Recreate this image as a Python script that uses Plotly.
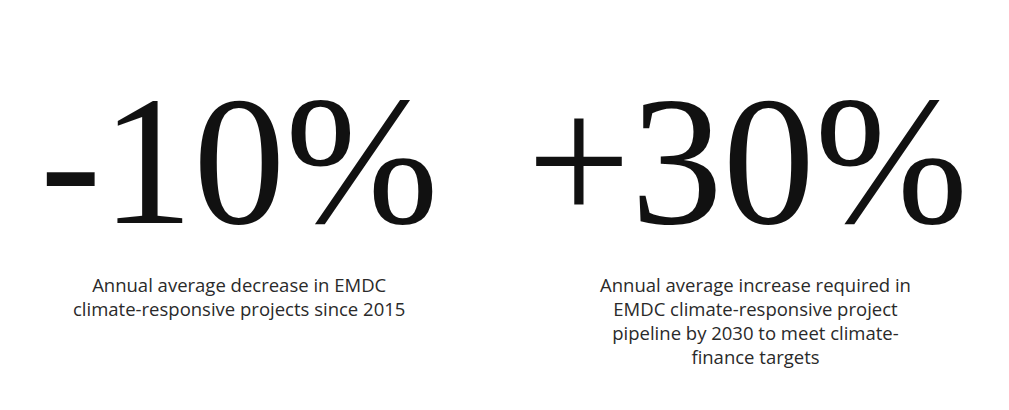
import plotly.graph_objects as go

# Data
values = [-10, 30]
value_labels = ["-10%", "+30%"]
captions = [
    "Annual average decrease in EMDC<br>climate-responsive projects since 2015",
    "Annual average increase required in<br>EMDC climate-responsive project<br>pipeline by 2030 to meet climate-<br>finance targets",
]
x_centers = [0.229, 0.733]
caption_x = [0.229, 0.741]

fig = go.Figure()

annotations = []
for lab, cap, xc, cx in zip(value_labels, captions, x_centers, caption_x):
    annotations.append(dict(
        x=xc, y=0.626, xref="paper", yref="paper", text=lab, showarrow=False,
        xanchor="center", yanchor="middle",
        font=dict(family="Liberation Serif, Times New Roman, Times, serif", size=184, color="#111111"),
    ))
    annotations.append(dict(
        x=cx, y=0.36, xref="paper", yref="paper", text=cap, showarrow=False,
        xanchor="center", yanchor="top", align="center",
        font=dict(family="Open Sans, Liberation Sans, sans-serif", size=18.5, color="#2a2a2a"),
    ))

fig.update_layout(
    width=1009, height=410,
    margin=dict(l=0, r=0, t=0, b=0),
    paper_bgcolor="#ffffff", plot_bgcolor="#ffffff",
    xaxis=dict(visible=False, range=[0, 1]),
    yaxis=dict(visible=False, range=[0, 1]),
    annotations=annotations,
    showlegend=False,
)

fig.write_html("out.html")
